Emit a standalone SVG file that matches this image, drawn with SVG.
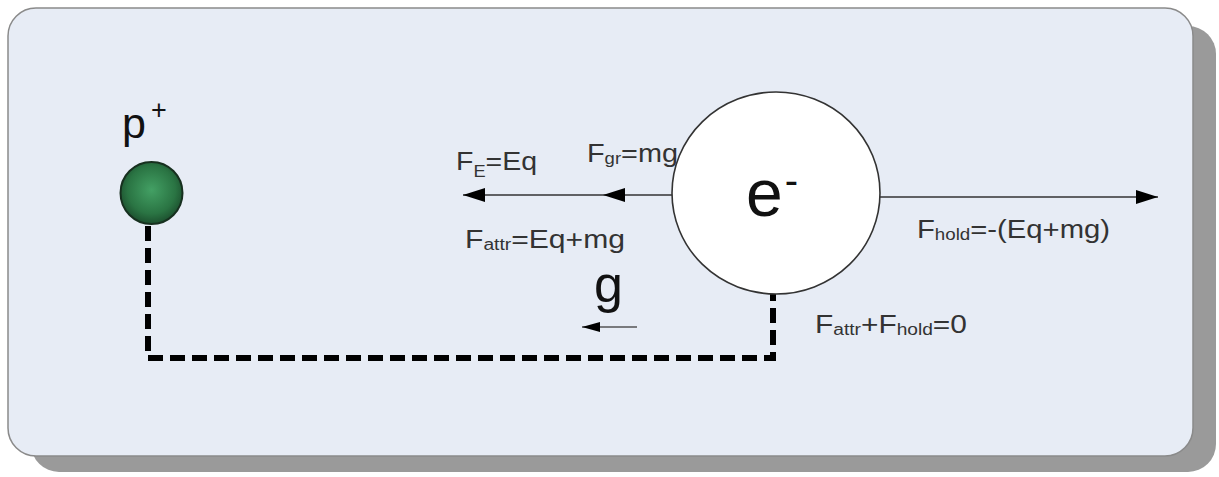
<svg xmlns="http://www.w3.org/2000/svg" width="1219" height="477" viewBox="0 0 1219 477">
  <style>
    .lbl { font-family: "Liberation Sans", Arial, sans-serif; fill: #333333; font-size: 25px; }
    .sub { font-size: 16px; }
    .big { font-family: "Liberation Sans", Arial, sans-serif; fill: #111111; }
    .force { stroke: #333333; stroke-width: 1.6; fill: none; }
    .dash { stroke: #000000; stroke-width: 6; fill: none; stroke-dasharray: 15 7; }
  </style>
  <defs>
    <radialGradient id="green" cx="50%" cy="45%" r="55%">
      <stop offset="0" stop-color="#43a064"/>
      <stop offset="0.7" stop-color="#2a7443"/>
      <stop offset="1" stop-color="#1c4f2e"/>
    </radialGradient>
    <marker id="ah" markerWidth="22" markerHeight="14" refX="22" refY="7" orient="auto" markerUnits="userSpaceOnUse">
      <path d="M0,0 L22,7 L0,14 Z" fill="#000000"/>
    </marker>
    <marker id="ahs" markerWidth="18" markerHeight="10" refX="18" refY="5" orient="auto" markerUnits="userSpaceOnUse">
      <path d="M0,0 L18,5 L0,10 Z" fill="#000000"/>
    </marker>
  </defs>

  <g id="background">
    <rect x="31" y="26" width="1185" height="446" rx="28" ry="28" fill="#9a9a9a"/>
    <rect x="8" y="8" width="1185" height="448" rx="28" ry="28" fill="#e7ecf5" stroke="#8a8a8a" stroke-width="1.5"/>
  </g>

  <g id="connectors">
    <path class="dash" d="M148,226 L148,358 L773,358 L773,293"/>
    <line class="force" x1="672" y1="195" x2="463" y2="195" marker-end="url(#ah)"/>
    <path d="M625,188 L603,195 L625,202 Z" fill="#000000"/>
    <line class="force" x1="880" y1="197" x2="1158" y2="197" marker-end="url(#ah)"/>
    <line x1="637" y1="327" x2="582" y2="327" stroke="#555555" stroke-width="1.5" marker-end="url(#ahs)"/>
  </g>

  <g id="proton">
    <circle cx="151.5" cy="193" r="31" fill="url(#green)" stroke="#17301f" stroke-width="2"/>
    <text class="big" x="122" y="138" font-size="43">p<tspan font-size="27" dx="5" dy="-19">+</tspan></text>
  </g>

  <g id="electron">
    <ellipse cx="776" cy="193" rx="104" ry="101" fill="#ffffff" stroke="#333333" stroke-width="1.6"/>
    <text class="big" x="746" y="216" font-size="66">e<tspan font-size="40" dx="2" dy="-22">-</tspan></text>
  </g>

  <g id="labels">
    <text class="lbl" x="456" y="170" textLength="81" lengthAdjust="spacingAndGlyphs">F<tspan class="sub" dy="7">E</tspan><tspan dy="-7">=Eq</tspan></text>
    <text class="lbl" x="587" y="162" font-size="26" textLength="91" lengthAdjust="spacingAndGlyphs">F<tspan class="sub" dy="2">gr</tspan><tspan dy="-2">=mg</tspan></text>
    <text class="lbl" x="465" y="248" textLength="160" lengthAdjust="spacingAndGlyphs">F<tspan class="sub" dy="2">attr</tspan><tspan dy="-2">=Eq+mg</tspan></text>
    <text class="lbl" x="917" y="238" textLength="193" lengthAdjust="spacingAndGlyphs">F<tspan class="sub" dy="2">hold</tspan><tspan dy="-2">=-(Eq+mg)</tspan></text>
    <text class="lbl" x="815" y="333" textLength="152" lengthAdjust="spacingAndGlyphs">F<tspan class="sub" dy="2">attr</tspan><tspan dy="-2">+F</tspan><tspan class="sub" dy="2">hold</tspan><tspan dy="-2">=0</tspan></text>
    <text class="big" x="594" y="302" font-size="52">g</text>
  </g>
</svg>
